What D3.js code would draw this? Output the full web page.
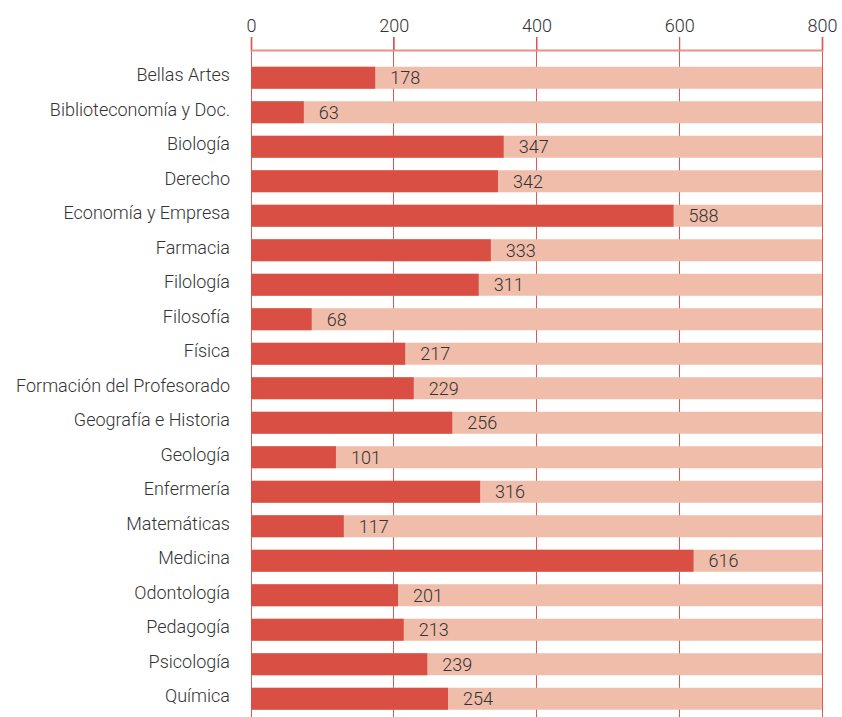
<!DOCTYPE html>
<html>
<head>
<meta charset="utf-8">
<script src="https://cdn.jsdelivr.net/npm/d3@7"></script>
<style>
  html, body { margin: 0; padding: 0; background: #fff; }
  svg text { font-family: Roboto, "Liberation Sans", sans-serif; font-weight: 300; fill: #333; }
</style>
</head>
<body>
<svg id="chart" width="842" height="717"></svg>
<script>
// Categories (top to bottom)
const categories = [
  "Bellas Artes", "Biblioteconomía y Doc.", "Biología", "Derecho",
  "Economía y Empresa", "Farmacia", "Filología", "Filosofía", "Física",
  "Formación del Profesorado", "Geografía e Historia", "Geología",
  "Enfermería", "Matemáticas", "Medicina", "Odontología", "Pedagogía",
  "Psicología", "Química"
];
// Printed value labels
const labels = [178, 63, 347, 342, 588, 333, 311, 68, 217, 229, 256, 101, 316, 117, 616, 201, 213, 239, 254];
// Bar lengths as drawn in the picture
const barValues = [174, 74, 354, 346, 592, 336, 319, 85, 216, 228, 282, 119, 321, 130, 620, 206, 214, 247, 276];
// Full-length background value
const maxValue = 800;
const tickValues = [0, 200, 400, 600, 800];

const svg = d3.select("#chart");
const x = d3.scaleLinear().domain([0, maxValue]).range([251, 822]);
const y = d3.scaleBand().domain(categories).range([60.5, 716])
  .paddingInner(0.3623).paddingOuter(0.1812);

const data = categories.map((c, i) => ({ c, v: barValues[i], l: labels[i] }));

// grid lines
svg.append("g").selectAll("line").data(tickValues).join("line")
  .attr("x1", d => x(d)).attr("x2", d => x(d))
  .attr("y1", 37).attr("y2", 717)
  .attr("stroke", "#e0574d").attr("stroke-width", 1)
  .attr("shape-rendering", "crispEdges");

// axis
const axis = d3.axisTop(x).tickValues(tickValues).tickSize(13).tickPadding(5).tickFormat(d3.format("d"));
const gAxis = svg.append("g").attr("transform", "translate(0,50)").call(axis);
gAxis.select(".domain").attr("stroke", "#ec8f88").attr("stroke-width", 2);
gAxis.selectAll(".tick line").attr("stroke", "#e0574d");
gAxis.selectAll(".tick text").attr("font-size", 18).attr("font-family", null).style("fill", "#333");

// background bars
svg.append("g").selectAll("rect").data(data).join("rect")
  .attr("x", x(0)).attr("y", d => y(d.c))
  .attr("width", x(maxValue) - x(0)).attr("height", y.bandwidth())
  .attr("fill", "#f0bdaa");

// value bars
svg.append("g").selectAll("rect").data(data).join("rect")
  .attr("x", x(0)).attr("y", d => y(d.c))
  .attr("width", d => x(d.v) - x(0)).attr("height", y.bandwidth())
  .attr("fill", "#d94f43");

// value labels
svg.append("g").selectAll("text").data(data).join("text")
  .attr("x", d => x(d.v) + 15).attr("y", d => y(d.c) + y.bandwidth() / 2)
  .attr("dy", "0.36em").attr("font-size", 18)
  .text(d => d.l);

// category labels
svg.append("g").selectAll("text").data(data).join("text")
  .attr("x", 230).attr("y", d => y(d.c) + y.bandwidth() / 2 - 3)
  .attr("dy", "0.36em").attr("text-anchor", "end").attr("font-size", 18)
  .text(d => d.c);
</script>
</body>
</html>
